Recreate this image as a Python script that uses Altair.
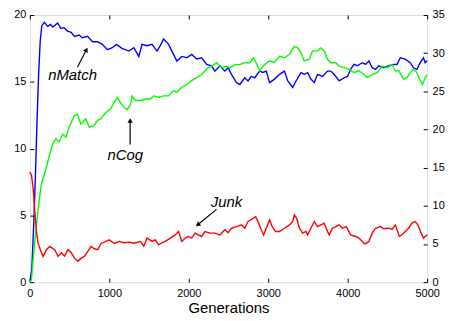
import altair as alt
import pandas as pd

# ---- data ----
match_gen = [0, 25, 50, 70, 90, 110, 130, 150, 183, 225, 260, 290, 350, 390, 430, 475, 520, 560, 620, 660,
             725, 790, 850, 912, 975, 1037, 1090, 1160, 1245, 1308, 1371, 1412, 1475, 1537, 1600, 1641, 1683,
             1746, 1787, 1850, 1912, 1975, 2037, 2100, 2162, 2225, 2287, 2329, 2392, 2454, 2496, 2537, 2600,
             2642, 2704, 2746, 2787, 2829, 2892, 2933, 2975, 3017, 3079, 3142, 3204, 3246, 3308, 3350, 3412,
             3454, 3496, 3537, 3579, 3621, 3683, 3746, 3787, 3829, 3892, 3954, 3996, 4037, 4079, 4121, 4183,
             4225, 4267, 4308, 4350, 4392, 4454, 4517, 4579, 4620, 4662, 4725, 4787, 4829, 4871, 4912, 4954,
             4975, 5000]
match_val = [0.0, 1.0, 4.5, 8.0, 12.0, 15.5, 18.0, 19.2, 19.45, 19.15, 19.3, 19.1, 19.4, 19.0, 19.05, 18.8,
             18.7, 18.4, 18.5, 18.3, 18.4, 18.0, 18.0, 17.8, 17.4, 17.55, 17.8, 17.5, 17.3, 17.55, 16.9, 17.8,
             17.7, 17.8, 17.3, 17.7, 18.2, 17.8, 17.3, 16.55, 16.9, 16.8, 17.05, 16.7, 16.8, 16.3, 16.2, 15.8,
             16.2, 15.8, 16.05, 15.56, 14.94, 14.8, 15.3, 15.06, 15.4, 15.3, 15.8, 15.7, 15.8, 14.94, 15.2,
             15.56, 15.8, 15.06, 14.57, 15.06, 15.68, 15.56, 15.68, 15.2, 14.94, 15.56, 15.4, 15.8, 15.8,
             15.56, 15.07, 15.3, 15.4, 15.93, 16.3, 16.2, 16.43, 16.3, 16.56, 16.05, 15.93, 16.2, 16.05, 16.2,
             16.3, 16.3, 16.8, 16.7, 16.43, 16.05, 15.93, 16.43, 16.8, 16.43, 16.6]

cog_gen = [0, 20, 58, 100, 142, 204, 246, 287, 329, 370, 412, 454, 496, 558, 600, 642, 704, 746, 808, 850,
           892, 954, 1017, 1058, 1100, 1142, 1183, 1225, 1267, 1287, 1329, 1392, 1454, 1517, 1558, 1621, 1683,
           1746, 1808, 1850, 1912, 1975, 2037, 2100, 2162, 2204, 2246, 2287, 2350, 2412, 2475, 2517, 2579,
           2642, 2704, 2767, 2817, 2858, 2892, 2954, 3017, 3079, 3142, 3204, 3267, 3329, 3371, 3412, 3454,
           3517, 3558, 3621, 3662, 3704, 3746, 3787, 3850, 3892, 3954, 4017, 4079, 4142, 4204, 4246, 4308,
           4371, 4433, 4496, 4558, 4600, 4642, 4704, 4746, 4787, 4829, 4871, 4912, 4942, 4975, 5000]
cog_val = [0.0, 0.3, 4.9, 9.2, 12.7, 14.9, 16.6, 18.1, 18.8, 18.35, 19.4, 19.0, 20.3, 21.8, 22.0, 20.7, 21.4,
           20.3, 20.5, 21.2, 21.4, 22.2, 22.7, 23.5, 24.2, 23.5, 22.9, 22.6, 23.3, 24.4, 23.8, 23.8, 24.0,
           24.0, 24.4, 24.2, 24.4, 24.4, 25.1, 24.9, 25.5, 25.9, 26.4, 26.8, 27.2, 27.7, 28.1, 28.3, 28.75,
           28.1, 28.3, 28.1, 28.5, 28.5, 28.75, 28.75, 29.4, 28.5, 27.7, 28.5, 29.0, 28.75, 29.6, 29.4, 29.85,
           30.9, 30.7, 30.05, 29.0, 29.2, 30.3, 30.3, 30.7, 30.3, 29.2, 28.75, 28.75, 28.3, 28.1, 27.9, 27.45,
           27.7, 27.2, 26.8, 27.2, 27.45, 28.3, 28.1, 28.5, 27.7, 27.7, 26.6, 26.8, 27.45, 27.9, 27.45, 26.4,
           25.9, 26.8, 27.2]

junk_gen = [0, 21, 42, 62, 83, 104, 146, 167, 208, 250, 312, 354, 396, 437, 479, 521, 562, 604, 646, 687,
            729, 771, 812, 854, 896, 958, 1000, 1062, 1125, 1187, 1250, 1308, 1392, 1433, 1475, 1537, 1579,
            1621, 1662, 1704, 1767, 1829, 1871, 1912, 1954, 1996, 2037, 2079, 2121, 2162, 2204, 2267, 2329,
            2392, 2454, 2496, 2537, 2600, 2662, 2704, 2746, 2808, 2842, 2871, 2912, 2942, 2975, 3017, 3050,
            3092, 3142, 3204, 3267, 3308, 3329, 3358, 3392, 3433, 3475, 3496, 3537, 3579, 3621, 3662, 3704,
            3746, 3767, 3808, 3850, 3892, 3933, 3983, 4037, 4100, 4142, 4183, 4217, 4267, 4308, 4350, 4412,
            4454, 4517, 4558, 4600, 4650, 4683, 4725, 4767, 4808, 4850, 4883, 4925, 4954, 5000]
junk_val = [8.25, 8.0, 7.0, 5.3, 3.8, 2.9, 2.2, 1.93, 2.43, 2.68, 2.43, 1.93, 2.2, 1.95, 2.43, 2.2, 1.8, 1.56,
            1.8, 1.93, 2.3, 2.68, 2.5, 2.43, 2.9, 3.05, 3.17, 2.9, 3.05, 2.95, 3.0, 2.92, 3.05, 2.68, 3.3,
            3.05, 3.17, 2.8, 2.95, 3.05, 3.3, 3.54, 3.79, 3.05, 3.3, 3.42, 3.3, 3.67, 3.54, 3.42, 3.79, 3.67,
            3.67, 3.54, 3.92, 3.7, 4.04, 4.16, 4.29, 4.04, 4.54, 4.78, 4.9, 4.54, 3.92, 3.54, 4.04, 4.66, 4.16,
            3.79, 3.79, 4.04, 4.29, 4.54, 5.03, 4.78, 4.04, 3.67, 3.8, 3.54, 4.04, 4.54, 4.16, 4.29, 4.42, 3.79,
            3.54, 4.04, 4.16, 4.29, 4.04, 4.16, 3.54, 3.42, 3.3, 3.05, 2.85, 3.05, 3.67, 4.04, 4.16, 4.0, 4.04,
            3.95, 4.29, 3.42, 3.55, 3.79, 4.04, 4.42, 4.54, 4.29, 3.67, 3.3, 3.54]

x_ticks = [0, 1000, 2000, 3000, 4000, 5000]
left_ticks = [0, 5, 10, 15, 20]
right_ticks = [0, 5, 10, 15, 20, 25, 30, 35]

# annotations (in generation / left-axis units)
label_text = ["nMatch", "nCog", "Junk"]
label_gen = [537, 1200, 2475]
label_val = [15.5, 9.5, 6.0]
arrow_gen = [600, 1262, 2350]
arrow_val = [16.1, 10.3, 5.45]
arrow_gen2 = [712, 1262, 2112]
arrow_val2 = [17.4, 12.1, 4.3]
arrow_angle = [28, 0, 232]

FONT = "Liberation Sans"

df_match = pd.DataFrame({"gen": match_gen, "v": match_val})
df_cog = pd.DataFrame({"gen": cog_gen, "v": cog_val})
df_junk = pd.DataFrame({"gen": junk_gen, "v": junk_val})
df_lab = pd.DataFrame({"gen": label_gen, "v": label_val, "t": label_text})
df_arr = pd.DataFrame({"gen": arrow_gen, "v": arrow_val, "gen2": arrow_gen2, "v2": arrow_val2})

xs = alt.Scale(domain=[0, 5000], nice=False, zero=False)
ls = alt.Scale(domain=[0, 20], nice=False)
rs = alt.Scale(domain=[0, 35], nice=False)

common = dict(offset=-4, tickSize=4, tickColor="black", tickWidth=1, domain=False, grid=False,
              labelFont=FONT, labelFontSize=11, labelColor="black", labelFlush=False, format="d")

bottom_axis = alt.Axis(orient="bottom", values=x_ticks, labelPadding=5, title="Generations",
                       titleFont=FONT, titleFontSize=15, titleFontWeight="normal", titleColor="black",
                       titlePadding=3, **common)
top_axis = alt.Axis(orient="top", values=x_ticks, labels=False, title=None, **common)
left_axis = alt.Axis(orient="left", values=left_ticks, labelPadding=4, title=None, **common)
right_axis = alt.Axis(orient="right", values=right_ticks, labelPadding=5, title=None, **common)

blue = alt.Chart(df_match).mark_line(color="#0000ff", strokeWidth=1.4).encode(
    x=alt.X("gen:Q", scale=xs, axis=bottom_axis),
    y=alt.Y("v:Q", scale=ls, axis=left_axis),
)
green = alt.Chart(df_cog).mark_line(color="#00ff00", strokeWidth=1.4).encode(
    x=alt.X("gen:Q", scale=xs, axis=top_axis),
    y=alt.Y("v:Q", scale=rs, axis=right_axis),
)
red = alt.Chart(df_junk).mark_line(color="#ff0000", strokeWidth=1.4).encode(
    x=alt.X("gen:Q", scale=xs, axis=None),
    y=alt.Y("v:Q", scale=ls, axis=None),
)
labels = alt.Chart(df_lab).mark_text(font=FONT, fontSize=15, fontStyle="italic", color="black").encode(
    x=alt.X("gen:Q", scale=xs, axis=None),
    y=alt.Y("v:Q", scale=ls, axis=None),
    text="t:N",
)
arrows = alt.Chart(df_arr).mark_rule(color="black", strokeWidth=1.2).encode(
    x=alt.X("gen:Q", scale=xs, axis=None),
    y=alt.Y("v:Q", scale=ls, axis=None),
    x2="gen2:Q",
    y2="v2:Q",
)
heads = []
for i in range(3):
    heads.append(
        alt.Chart(df_arr.iloc[[i]]).mark_point(shape="triangle-up", filled=True, size=28, opacity=1,
                                               color="black", angle=arrow_angle[i]).encode(
            x=alt.X("gen2:Q", scale=xs, axis=None),
            y=alt.Y("v2:Q", scale=ls, axis=None),
        )
    )

chart = alt.layer(blue, green, red, labels, arrows, *heads).resolve_scale(
    y="independent"
).resolve_axis(x="independent", y="independent").properties(
    width=400, height=269,
    padding={"left": 5, "top": 0, "right": 5, "bottom": 0},
).configure_view(stroke="black", strokeWidth=1).configure(background="white")

chart.save("out.html", embed_options={"renderer": "svg", "actions": False})
